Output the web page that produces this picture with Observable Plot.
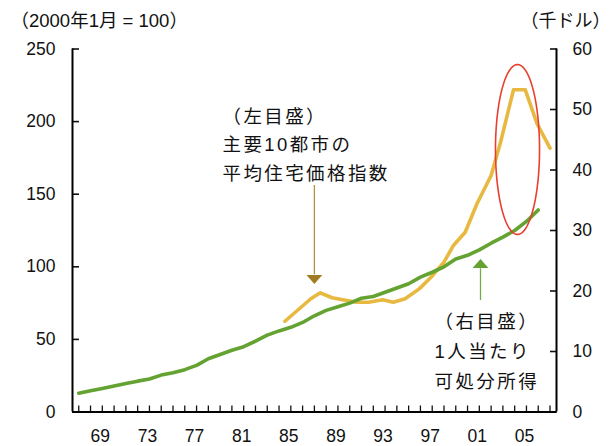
<!DOCTYPE html>
<html>
<head>
<meta charset="utf-8">
<script src="https://cdn.jsdelivr.net/npm/d3@7"></script>
<script src="https://cdn.jsdelivr.net/npm/@observablehq/plot@0.6"></script>
<style>
  html, body { margin: 0; padding: 0; background: #fff; }
</style>
</head>
<body>
<div id="chart"></div>
<script>
// Per-capita disposable income, thousand dollars (right scale)
const incomeYears = [1967, 1968, 1969, 1970, 1971, 1972, 1973, 1974, 1975, 1976,
  1977, 1978, 1979, 1980, 1981, 1982, 1983, 1984, 1985, 1986,
  1987, 1988, 1989, 1990, 1991, 1992, 1993, 1994, 1995, 1996,
  1997, 1998, 1999, 2000, 2001, 2002, 2003, 2004, 2005, 2006];
const incomeValues = [3.1, 3.5, 3.9, 4.3, 4.7, 5.1, 5.45, 6.1, 6.5, 7.0,
  7.7, 8.8, 9.5, 10.2, 10.8, 11.7, 12.7, 13.4, 14.0, 14.8,
  15.9, 16.8, 17.4, 18.0, 18.8, 19.1, 19.8, 20.5, 21.2, 22.3,
  23.1, 24.0, 25.3, 25.9, 26.8, 27.9, 28.9, 30.0, 31.5, 33.4];

// Average house price index of 10 major cities, Jan 2000 = 100 (left scale)
const priceYears = [1984.5, 1986.7, 1987.5, 1988.5, 1989.4, 1990.6, 1991.6, 1992.8,
  1993.7, 1994.7, 1995.9, 1996.9, 1998.0, 1998.8, 1999.8, 2000.8, 2002.0, 2002.8,
  2003.9, 2004.9, 2005.9, 2007.0];
const priceValues = [62.5, 78.0, 82.1, 78.7, 77.3, 75.6, 75.6, 77.3,
  75.6, 78.0, 84.8, 92.8, 103.2, 114.7, 123.8, 143.4, 162.9, 185.8,
  221.9, 221.9, 198.5, 181.7];

// Axis ticks and labels
const leftTicks = [0, 50, 100, 150, 200, 250];
const rightTicks = [0, 10, 20, 30, 40, 50, 60];
const labelYears = [1969, 1973, 1977, 1981, 1985, 1989, 1993, 1997, 2001, 2005];
const minorYears = d3.range(1967, 2008);

const leftTitle = "（2000年1月 = 100）";
const rightTitle = "（千ドル）";
const priceNote = ["（左目盛）", "主要10都市の", "平均住宅価格指数"];
const incomeNote = ["（右目盛）", "1人当たり", "可処分所得"];

// Right scale (0–60) expressed on the left scale (0–250)
const k = 250 / 60;
const xDomain = [1966.47, 2007.55];

const income = incomeYears.map((year, i) => ({year, value: incomeValues[i] * k}));
const price = priceYears.map((year, i) => ({year, value: priceValues[i]}));

// Highlight around the price peak
const peak = {x: 2004.24, y: 180.8, rx: 1.87, ry: 58.5};
const ring = d3.range(0, 362, 2).map(a => ({
  x: peak.x + peak.rx * Math.cos(a * Math.PI / 180),
  y: peak.y + peak.ry * Math.sin(a * Math.PI / 180)
}));

// Pointer arrows from the notes to each series
const priceArrow = {x: 1987.0, y1: 156, y2: 94.5, head: 91.4};
const incomeArrow = {x: 2001.1, y1: 76.8, y2: 98.6, head: 102.1};

const triDown = {draw(ctx, size) {
  const r = Math.sqrt(size / Math.PI);
  ctx.moveTo(-r, -0.55 * r); ctx.lineTo(r, -0.55 * r); ctx.lineTo(0, 0.6 * r); ctx.closePath();
}};
const triUp = {draw(ctx, size) {
  const r = Math.sqrt(size / Math.PI);
  ctx.moveTo(-r, 0.55 * r); ctx.lineTo(r, 0.55 * r); ctx.lineTo(0, -0.6 * r); ctx.closePath();
}};

const gold = "#e8b940";
const green = "#64a332";
const font = '"Liberation Sans", "Noto Sans CJK JP", sans-serif';

const chart = Plot.plot({
  width: 615,
  height: 446,
  marginLeft: 72,
  marginRight: 59,
  marginTop: 48.5,
  marginBottom: 34.5,
  style: {fontFamily: font, fontSize: "17px", background: "#fff", color: "#111"},
  x: {domain: xDomain},
  y: {domain: [0, 250]},
  marks: [
    // minor ticks along the bottom, pointing inward
    Plot.axisX({ticks: minorYears, tickSize: -6, tickFormat: () => "", strokeWidth: 1.3}),
    Plot.axisX({ticks: labelYears, tickSize: 0, tickPadding: 17.5, dx: -2,
      tickFormat: d => String(d).slice(2), fontSize: 17.5}),
    Plot.axisY({anchor: "left", ticks: leftTicks, tickSize: -7, tickPadding: 24,
      fontSize: 17.5, strokeWidth: 1.6}),
    Plot.axisY({anchor: "right", ticks: rightTicks.map(v => v * k), tickSize: -7, tickPadding: 23,
      tickFormat: d => String(Math.round(d / k)), fontSize: 17.5, strokeWidth: 1.6}),
    Plot.ruleX(xDomain, {stroke: "#000", strokeWidth: 2}),
    Plot.ruleY([0], {stroke: "#000", strokeWidth: 2}),

    Plot.line(price, {x: "year", y: "value", stroke: gold, strokeWidth: 3.6, strokeLinejoin: "round"}),
    Plot.line(income, {x: "year", y: "value", stroke: green, strokeWidth: 3.6, strokeLinejoin: "round"}),

    Plot.line(ring, {x: "x", y: "y", stroke: "#e8402f", strokeWidth: 1.6}),

    Plot.ruleX([priceArrow], {x: "x", y1: "y1", y2: "y2", stroke: "#b39244", strokeWidth: 1.3}),
    Plot.dot([priceArrow], {x: "x", y: "head", symbol: triDown, r: 7.85, fill: "#a07b1f", stroke: null}),
    Plot.ruleX([incomeArrow], {x: "x", y1: "y1", y2: "y2", stroke: "#74ad44", strokeWidth: 1.3}),
    Plot.dot([incomeArrow], {x: "x", y: "head", symbol: triUp, r: 7.85, fill: "#64a332", stroke: null}),

    Plot.text([priceNote.join("\n")], {x: 1979.2, y: 185.8, textAnchor: "start",
      lineAnchor: "middle", lineHeight: 1.56, fontSize: 18.5, fill: "#111"}),
    Plot.text([incomeNote.join("\n")], {x: 1997.2, y: 43.7, textAnchor: "start",
      lineAnchor: "middle", lineHeight: 1.62, fontSize: 18.5, fill: "#111"}),

    Plot.text([leftTitle], {frameAnchor: "top-left", dx: -62, dy: -27.5, textAnchor: "start",
      lineAnchor: "middle", fontSize: 18.5, fill: "#111"}),
    Plot.text([rightTitle], {frameAnchor: "top-right", dx: 54, dy: -27.5, textAnchor: "end",
      lineAnchor: "middle", fontSize: 18, fill: "#111"})
  ]
});

// widen the spacing of the note lettering
const noteLines = new Set([...priceNote, ...incomeNote]);
d3.select(chart).selectAll("tspan, text")
  .filter(function () { return noteLines.has(this.textContent); })
  .attr("letter-spacing", "2.4");

document.getElementById("chart").appendChild(chart);
</script>
</body>
</html>
